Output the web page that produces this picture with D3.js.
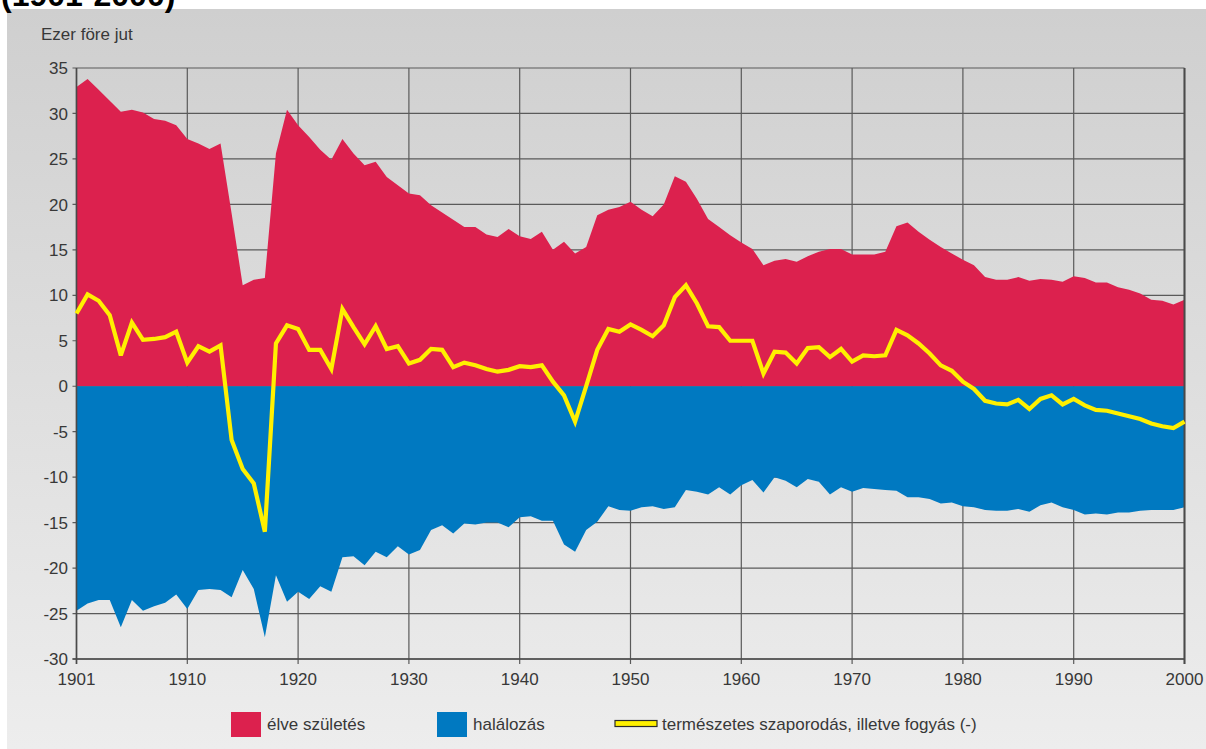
<!DOCTYPE html>
<html>
<head>
<meta charset="utf-8">
<script src="https://cdn.jsdelivr.net/npm/d3@7"></script>
<style>
  html, body { margin: 0; padding: 0; background: #ffffff; }
  svg { display: block; }
  text { font-family: "Liberation Sans", Arial, Helvetica, sans-serif; }
</style>
</head>
<body>
<svg id="chart" width="1206" height="749"></svg>
<script>
// ---- data (values per 1000 inhabitants) ----
const firstYear = 1900;
const lastYear = 2000;
const births = [
  32.9, 33.8, 32.6, 31.4, 30.2, 30.4, 30.1, 29.4, 29.2, 28.7,
  27.2, 26.7, 26.1, 26.7, 19.0, 11.1, 11.7, 11.9, 25.6, 30.4,
  28.7, 27.4, 26.0, 24.9, 27.2, 25.6, 24.3, 24.7, 23.0, 22.1,
  21.2, 21.0, 19.9, 19.1, 18.3, 17.5, 17.5, 16.7, 16.4, 17.3,
  16.5, 16.2, 17.0, 15.0, 15.9, 14.6, 15.3, 18.8, 19.4, 19.7,
  20.3, 19.4, 18.7, 20.0, 23.1, 22.5, 20.6, 18.4, 17.5, 16.6,
  15.8, 15.1, 13.3, 13.8, 14.0, 13.7, 14.3, 14.8, 15.1, 15.1,
  14.5, 14.5, 14.5, 14.8, 17.6, 18.0, 17.0, 16.1, 15.3, 14.6,
  13.9, 13.3, 12.0, 11.7, 11.7, 12.0, 11.6, 11.8, 11.7, 11.5,
  12.1, 11.9, 11.4, 11.4, 10.9, 10.6, 10.2, 9.5, 9.4, 9.0,
  9.5
];
const deaths = [
  -24.7, -23.9, -23.5, -23.5, -26.5, -23.5, -24.7, -24.2, -23.8, -22.9,
  -24.5, -22.4, -22.3, -22.4, -23.2, -20.2, -22.3, -27.6, -20.8, -23.7,
  -22.6, -23.4, -22.0, -22.6, -18.8, -18.7, -19.7, -18.2, -18.8, -17.6,
  -18.5, -18.0, -15.8, -15.3, -16.2, -15.1, -15.2, -15.0, -15.0, -15.5,
  -14.4, -14.3, -14.8, -14.8, -17.4, -18.2, -15.8, -14.9, -13.2, -13.6,
  -13.7, -13.3, -13.2, -13.5, -13.3, -11.4, -11.6, -11.9, -11.1, -11.9,
  -10.9, -10.3, -11.7, -10.0, -10.4, -11.1, -10.2, -10.5, -11.9, -11.1,
  -11.6, -11.2, -11.3, -11.4, -11.5, -12.2, -12.2, -12.4, -12.9, -12.8,
  -13.2, -13.3, -13.6, -13.7, -13.7, -13.5, -13.8, -13.1, -12.8, -13.3,
  -13.6, -14.1, -14.0, -14.1, -13.9, -13.9, -13.7, -13.6, -13.6, -13.6,
  -13.3
];
const naturalChange = [
  8.0, 10.1, 9.4, 7.8, 3.4, 7.0, 5.1, 5.2, 5.4, 6.0,
  2.6, 4.4, 3.8, 4.5, -5.9, -9.1, -10.7, -16.0, 4.7, 6.7,
  6.3, 4.0, 4.0, 1.9, 8.5, 6.5, 4.6, 6.6, 4.1, 4.4,
  2.5, 2.9, 4.1, 4.0, 2.1, 2.6, 2.3, 1.9, 1.6, 1.8,
  2.2, 2.1, 2.3, 0.5, -1.0, -3.9, 0.0, 4.0, 6.3, 6.0,
  6.8, 6.2, 5.5, 6.7, 9.8, 11.1, 9.1, 6.6, 6.5, 5.0,
  5.0, 5.0, 1.4, 3.8, 3.7, 2.5, 4.2, 4.3, 3.2, 4.1,
  2.7, 3.4, 3.3, 3.4, 6.2, 5.6, 4.7, 3.6, 2.3, 1.7,
  0.5, -0.3, -1.6, -1.9, -2.0, -1.5, -2.5, -1.4, -1.0, -2.0,
  -1.4, -2.1, -2.6, -2.7, -3.0, -3.3, -3.6, -4.1, -4.4, -4.6,
  -3.9
];
const xTickYears = [1900, 1910, 1920, 1930, 1940, 1950, 1960, 1970, 1980, 1990, 2000];
const xTickLabels = ["1901", "1910", "1920", "1930", "1940", "1950", "1960", "1970", "1980", "1990", "2000"];
const yTicks = [35, 30, 25, 20, 15, 10, 5, 0, -5, -10, -15, -20, -25, -30];
const title = "(1901-2000)";
const yUnit = "Ezer före jut";
const legendItems = [
  { key: "births", label: "élve születés" },
  { key: "deaths", label: "halálozás" },
  { key: "natural", label: "természetes szaporodás, illetve fogyás (-)" }
];

// ---- build rows ----
const years = d3.range(firstYear, lastYear + 1);
const rows = years.map((yr, i) => ({ year: yr, b: births[i], d: deaths[i], n: naturalChange[i] }));

// ---- styles ----
const colors = { births: "#dc214e", deaths: "#0079c1", natural: "#fff000" };

const svg = d3.select("#chart");

// background panel gradient
const defs = svg.append("defs");
const grad = defs.append("linearGradient").attr("id", "bg").attr("x1", 0).attr("y1", 0).attr("x2", 0).attr("y2", 1);
grad.append("stop").attr("offset", "0%").attr("stop-color", "#cfcfcf");
grad.append("stop").attr("offset", "100%").attr("stop-color", "#ededed");

svg.append("rect").attr("x", 7).attr("y", 9).attr("width", 1199).attr("height", 740).attr("fill", "url(#bg)");

// title (cut off at top, as in the original)
svg.append("text").attr("x", 1).attr("y", 6)
  .attr("font-size", 32).attr("font-weight", "bold").attr("fill", "#000")
  .text(title);

// scales
const x = d3.scaleLinear().domain([firstYear, lastYear]).range([76.5, 1184.5]);
const y = d3.scaleLinear().domain([-30, 35]).range([659, 68]);

// grid
const grid = svg.append("g").attr("stroke", "#5a5a5a").attr("stroke-width", 1.2);
grid.selectAll("line.h").data(yTicks).join("line")
  .attr("x1", x(firstYear) - 4).attr("x2", x(lastYear))
  .attr("y1", d => y(d)).attr("y2", d => y(d));
grid.selectAll("line.v").data(xTickYears).join("line")
  .attr("x1", d => x(d)).attr("x2", d => x(d))
  .attr("y1", y(35)).attr("y2", y(-30) + 5);

// areas
const areaB = d3.area().x(d => x(d.year)).y0(y(0)).y1(d => y(d.b));
const areaD = d3.area().x(d => x(d.year)).y0(y(0)).y1(d => y(d.d));
svg.append("path").datum(rows).attr("d", areaB).attr("fill", colors.births);
svg.append("path").datum(rows).attr("d", areaD).attr("fill", colors.deaths);

// axes lines
svg.append("line").attr("x1", x(firstYear)).attr("x2", x(firstYear)).attr("y1", y(35)).attr("y2", y(-30) + 5)
  .attr("stroke", "#4a4a4a").attr("stroke-width", 1.6);
svg.append("line").attr("x1", x(firstYear) - 4).attr("x2", x(lastYear)).attr("y1", y(-30)).attr("y2", y(-30))
  .attr("stroke", "#4a4a4a").attr("stroke-width", 1.6);
svg.append("line").attr("x1", x(lastYear)).attr("x2", x(lastYear)).attr("y1", y(35)).attr("y2", y(-30) + 5)
  .attr("stroke", "#4a4a4a").attr("stroke-width", 2);

// natural change line
const lineN = d3.line().x(d => x(d.year)).y(d => y(d.n));
svg.append("path").datum(rows).attr("d", lineN)
  .attr("fill", "none").attr("stroke", colors.natural).attr("stroke-width", 4.2)
  .attr("stroke-linejoin", "miter").attr("stroke-miterlimit", 3);

// y labels
svg.append("g").selectAll("text").data(yTicks).join("text")
  .attr("x", 68).attr("y", d => y(d)).attr("dy", "0.36em")
  .attr("text-anchor", "end").attr("font-size", 17).attr("fill", "#383838")
  .text(d => d);

// x labels
svg.append("g").selectAll("text").data(xTickYears).join("text")
  .attr("x", d => x(d)).attr("y", 685)
  .attr("text-anchor", "middle").attr("font-size", 17).attr("fill", "#383838")
  .text((d, i) => xTickLabels[i]);

// unit label
svg.append("text").attr("x", 41).attr("y", 40).attr("font-size", 17).attr("fill", "#383838").text(yUnit);

// legend
const lg = svg.append("g");
const legendX = [231, 437, 615];
legendItems.forEach((it, i) => {
  const gx = legendX[i];
  if (it.key === "natural") {
    lg.append("rect").attr("x", gx).attr("y", 720.5).attr("width", 42).attr("height", 6)
      .attr("fill", colors.natural).attr("stroke", "#2a2a2a").attr("stroke-width", 1.2);
    lg.append("text").attr("x", gx + 47).attr("y", 730).attr("font-size", 17).attr("fill", "#383838").text(it.label);
  } else {
    lg.append("rect").attr("x", gx).attr("y", 712).attr("width", 30).attr("height", 25)
      .attr("fill", colors[it.key]);
    lg.append("text").attr("x", gx + 36).attr("y", 730).attr("font-size", 17).attr("fill", "#383838").text(it.label);
  }
});
</script>
</body>
</html>
